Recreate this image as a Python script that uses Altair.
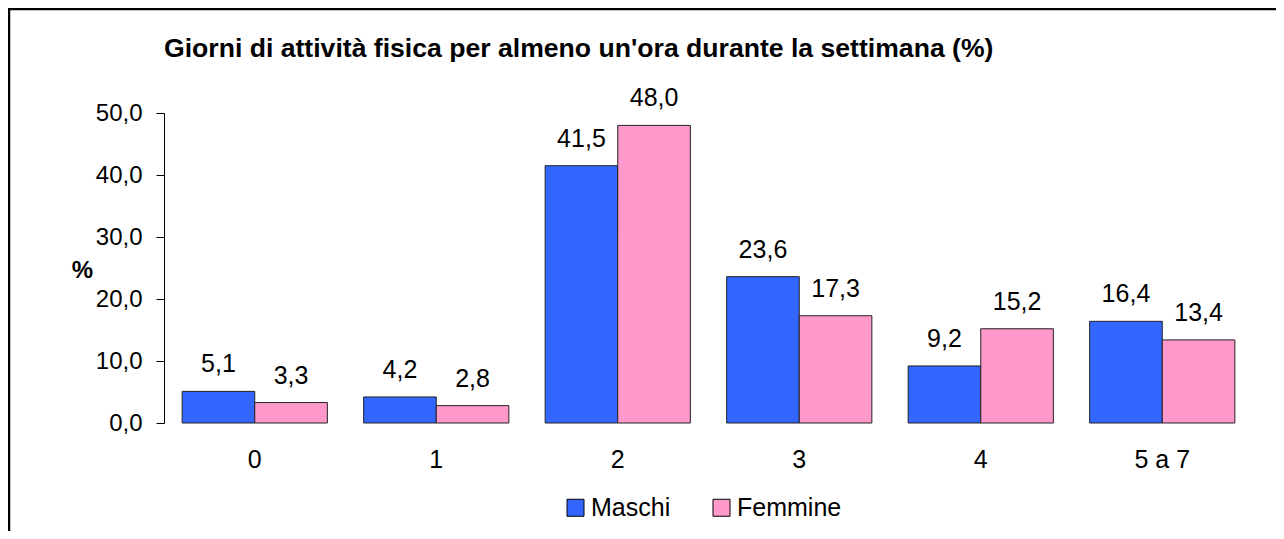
import altair as alt
import pandas as pd

categories = ["0", "1", "2", "3", "4", "5 a 7"]
series = ["Maschi", "Femmine"]
maschi = [5.1, 4.2, 41.5, 23.6, 9.2, 16.4]
femmine = [3.3, 2.8, 48.0, 17.3, 15.2, 13.4]
colors = ["#3366FF", "#FF99CC"]
y_ticks = [0, 10, 20, 30, 40, 50]
title_text = "Giorni di attività fisica per almeno un'ora durante la settimana (%)"

rows = []
for c, m, f in zip(categories, maschi, femmine):
    rows.append({"giorni": c, "sesso": "Maschi", "val": m})
    rows.append({"giorni": c, "sesso": "Femmine", "val": f})
df = pd.DataFrame(rows)
df["label"] = df["val"].map(lambda v: f"{v:.1f}".replace(".", ","))

FONT = "Liberation Sans"
FS = 24

x = alt.X("giorni:N", sort=categories,
          scale=alt.Scale(paddingInner=0.2, paddingOuter=0.1),
          axis=alt.Axis(title=None, labelAngle=0, domain=False, ticks=False,
                        labelPadding=24, labelFontSize=25, labelColor="black",
                        labelFont=FONT))
xoff = alt.XOffset("sesso:N", sort=series,
                   scale=alt.Scale(paddingInner=0, paddingOuter=0))
y = alt.Y("val:Q", scale=alt.Scale(domain=[0, 50]),
          axis=alt.Axis(values=y_ticks,
                        labelExpr="replace(format(datum.value,'.1f'),'.',',')",
                        grid=False, tickSize=8, tickColor="black",
                        domainColor="black", labelPadding=14,
                        labelFontSize=FS, labelColor="black", labelFont=FONT,
                        title="%", titleAngle=0, titleX=-82, titleY=157,
                        titleFontWeight="bold", titleFontSize=FS,
                        titleFont=FONT, titleColor="black",
                        titleAlign="center", titleBaseline="middle"))
color = alt.Color("sesso:N", sort=series,
                  scale=alt.Scale(domain=series, range=colors),
                  legend=alt.Legend(title=None, orient="none", direction="horizontal",
                                    legendX=399, legendY=382, symbolType="square",
                                    symbolSize=289, symbolStrokeColor="black",
                                    symbolStrokeWidth=1, symbolOpacity=1,
                                    labelFontSize=25, labelFont=FONT,
                                    labelColor="black", labelOffset=3,
                                    columnPadding=38))

border = alt.Chart(pd.DataFrame({"k": [0]})).mark_rect(
    fillOpacity=0, stroke="black", strokeWidth=2.5
).encode(x=alt.value(-155), x2=alt.value(1400), y=alt.value(-104), y2=alt.value(700))

bars = alt.Chart(df).mark_bar(stroke="#222222", strokeWidth=1, opacity=1).encode(
    x=x, xOffset=xoff, y=y, color=color)

labels = alt.Chart(df).mark_text(
    baseline="alphabetic", dy=-19, fontSize=25, font=FONT, color="black"
).encode(x=x, xOffset=xoff, y=y, text="label:N")

chart = alt.layer(border, bars, labels).properties(
    width=1089, height=310,
    title=alt.Title(title_text, anchor="start", frame="group", fontSize=26.6,
                    fontWeight="bold", font=FONT, color="black",
                    baseline="alphabetic", offset=-76),
    autosize=alt.AutoSizeParams(type="none"),
    padding={"left": 156, "top": 105, "right": 23, "bottom": 108},
).configure_view(strokeWidth=0)

chart.save("out.html", embed_options={"renderer": "svg", "actions": False})
